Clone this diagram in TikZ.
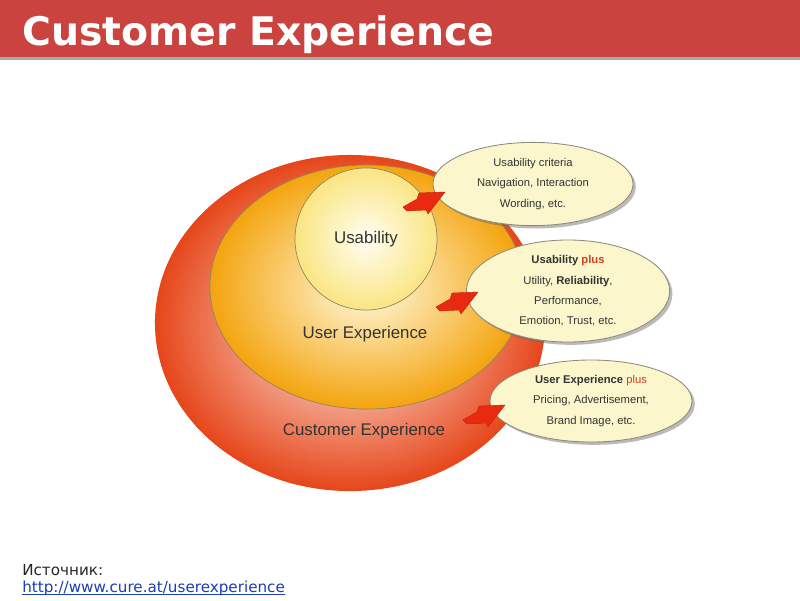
\documentclass[tikz,border=0pt]{standalone}
\usepackage{fontspec}
\setmainfont{DejaVu Sans}
\newfontfamily\arialfont{Liberation Sans}
\usepackage{xcolor}
\usetikzlibrary{positioning}
\usetikzlibrary{shapes.geometric}
\usetikzlibrary{shadows}

\definecolor{barlight}{HTML}{CB433E}
\definecolor{bardark}{HTML}{9E2825}
\definecolor{bargrey}{HTML}{A8A8A8}
\definecolor{custin}{HTML}{FFF3EC}
\definecolor{custout}{HTML}{E6461A}
\definecolor{userin}{HTML}{FFFBE2}
\definecolor{userout}{HTML}{F4A40E}
\definecolor{usein}{HTML}{FFFEF2}
\definecolor{useout}{HTML}{FAE582}
\definecolor{ringline}{HTML}{8E8660}
\definecolor{bubblefill}{HTML}{FBF6CC}
\definecolor{bubbleline}{HTML}{8C8A78}
\definecolor{textgrey}{HTML}{333333}
\definecolor{plusred}{HTML}{D0401E}
\definecolor{arrowred}{HTML}{EA2A10}
\definecolor{arrowedge}{HTML}{C02010}
\definecolor{linkblue}{HTML}{1A3DB8}

\begin{document}
\begin{tikzpicture}[x=0.025cm,y=-0.025cm,
  ring/.style={ellipse,inner sep=0pt},
  bubble/.style={ellipse,inner sep=0pt,draw=bubbleline,line width=0.6pt,fill=bubblefill,
    drop shadow={shadow xshift=2pt,shadow yshift=-2pt,opacity=0.45,fill=black!60}},
  bubbletext/.style={font=\arialfont\fontsize{8}{14.5}\selectfont,text=textgrey,align=center},
  ringlabel/.style={font=\arialfont\fontsize{12}{14}\selectfont,text=textgrey},
  pointer/.style={fill=arrowred,draw=arrowedge,line width=0.3pt,line join=round}]

\useasboundingbox (0,0) rectangle (800,600);
\fill[white] (0,0) rectangle (800,600);

% title bar
\shade[top color=barlight,middle color=bardark,bottom color=barlight] (0,0) rectangle (800,57);
\fill[bargrey] (0,57) rectangle (800,60);
\node[anchor=base west,inner sep=0pt,text=white,font=\bfseries\fontsize{28}{32}\selectfont] (title) at (22,45) {Customer Experience};

% rings
\node[ring,minimum width=9.75cm,minimum height=8.4cm,inner color=custin,outer color=custout] (cust) at (350,323) {};
\node[ring,minimum width=7.85cm,minimum height=6.1cm,draw=ringline,line width=0.5pt,inner color=userin,outer color=userout] (user) at (367,287) {};
\node[ring,minimum width=3.55cm,minimum height=3.55cm,draw=ringline,line width=0.5pt,inner color=usein,outer color=useout] (usab) at (366,239) {};

\node[ringlabel] (usablabel) at (366,239) {Usability};
\node[ringlabel] (userlabel) at (365,334) {User Experience};
\node[ringlabel] (custlabel) at (364,431) {Customer Experience};

% bubbles
\node[bubble,minimum width=5cm,minimum height=2.08cm] (crit) at (533,184) {};
\node[bubbletext] (crittext) at (crit) {Usability criteria\\Navigation, Interaction\\Wording, etc.};

\node[bubble,minimum width=5.08cm,minimum height=2.55cm] (uplus) at (568,291) {};
\node[bubbletext] (uplustext) at (uplus) {\textbf{Usability} \textcolor{plusred}{\textbf{plus}}\\Utility, \textbf{Reliability},\\Performance,\\Emotion, Trust, etc.};

\node[bubble,minimum width=5.05cm,minimum height=2.05cm] (xplus) at (591,401) {};
\node[bubbletext] (xplustext) at (xplus) {\textbf{User Experience} \textcolor{plusred}{plus}\\Pricing, Advertisement,\\Brand Image, etc.};

% arrows
\coordinate (tipcrit) at (445,192);
\coordinate (tipuplus) at (478,292);
\coordinate (tipxplus) at (505,405);
\foreach \tip in {tipcrit,tipuplus,tipxplus}
  \draw[pointer] (\tip) -- ++(-26,1) -- ++(-2,6) -- ++(-14,8) -- ++(4,4) -- ++(19,-1) -- ++(2,4) -- cycle;

% source
\node[anchor=base west,inner sep=0pt,font=\fontsize{10.8}{13}\selectfont,text=black!85] (source) at (22,575) {Источник:};
\node[anchor=base west,inner sep=0pt,font=\fontsize{10.8}{13}\selectfont,text=linkblue] (sourceurl) at (22,592) {http://www.cure.at/userexperience};
\draw[linkblue,line width=0.6pt] ([yshift=-1.6pt]sourceurl.base west) -- ([yshift=-1.6pt]sourceurl.base east);
\end{tikzpicture}
\end{document}
